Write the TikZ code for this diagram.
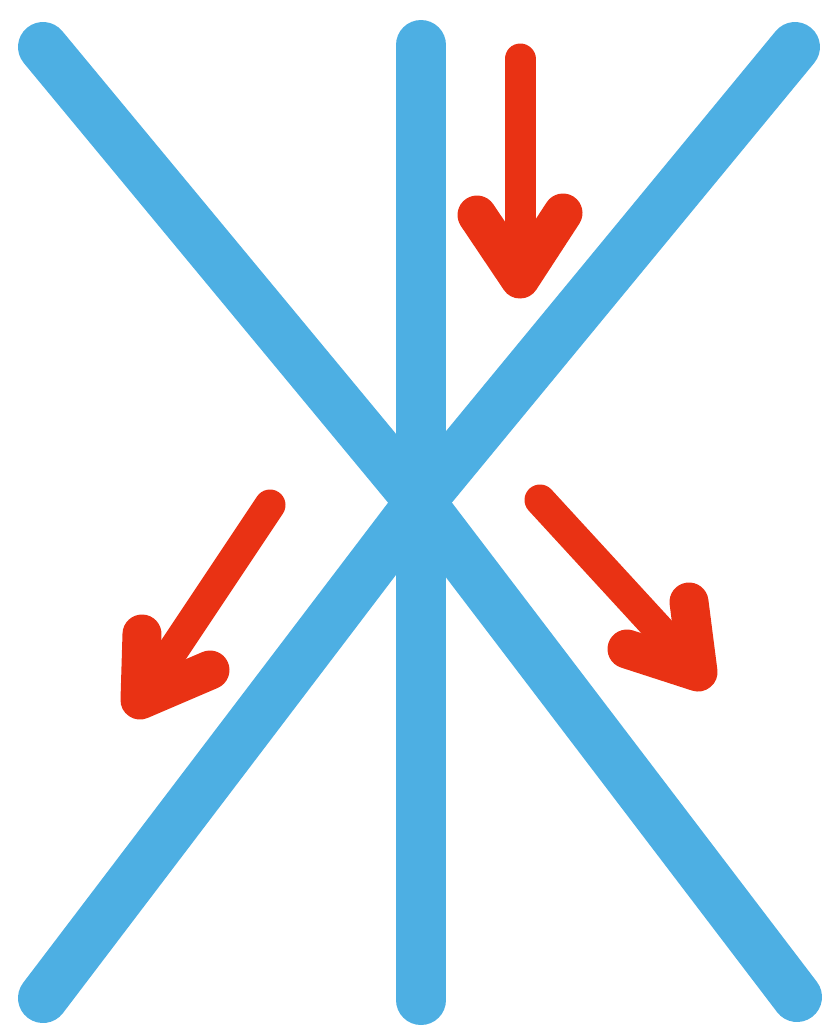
\documentclass[tikz,border=0pt]{standalone}
\usepackage{tikz}
\usetikzlibrary{calc}

\definecolor{skyblue}{RGB}{77,175,227}
\definecolor{arrowred}{RGB}{233,50,20}

\begin{document}
\begin{tikzpicture}[
  x=1pt, y=-1pt,
  bar/.style={line width=50pt, skyblue, line cap=round, line join=round},
  flow/.style={line width=31pt, arrowred, line cap=round, line join=round},
  flowhead/.style={flow, line width=39pt},
]

% --- Canvas ---
\useasboundingbox (0,0) rectangle (827,1029);

% --- Blue bars: one vertical, two diagonals through the centre ---
\coordinate (ctr) at (420,502);
\coordinate (topL) at (43,47);
\coordinate (topR) at (795,47);
\coordinate (botL) at (43,998);
\coordinate (botR) at (797,997);
\coordinate (vTop) at (421,45);
\coordinate (vBot) at (421,1000);

\draw[bar] (topL) -- (ctr) -- (botR);
\draw[bar] (topR) -- (ctr) -- (botL);
\draw[bar] (vTop) -- (vBot);

% --- Red arrows ---
% Arrow 1: straight down, right of the vertical bar
\coordinate (aStart) at (520,59);
\coordinate (aTip) at (520,279);
\coordinate (aArmL) at (477,215);
\coordinate (aArmR) at (563,213);
\draw[flow] (aStart) -- (aTip);
\draw[flowhead] (aArmL) -- (aTip) -- (aArmR);

% Arrow 2: down-left
\coordinate (bStart) at (270,505);
\coordinate (bTip) at (140,700);
\coordinate (bArmU) at (142,634);
\coordinate (bArmR) at (210,670);
\draw[flow] (bStart) -- (bTip);
\draw[flowhead] (bArmU) -- (bTip) -- (bArmR);

% Arrow 3: down-right
\coordinate (cStart) at (540,500);
\coordinate (cTip) at (698,672);
\coordinate (cArmU) at (689,602);
\coordinate (cArmL) at (627,649);
\draw[flow] (cStart) -- (cTip);
\draw[flowhead] (cArmU) -- (cTip) -- (cArmL);

\end{tikzpicture}
\end{document}
